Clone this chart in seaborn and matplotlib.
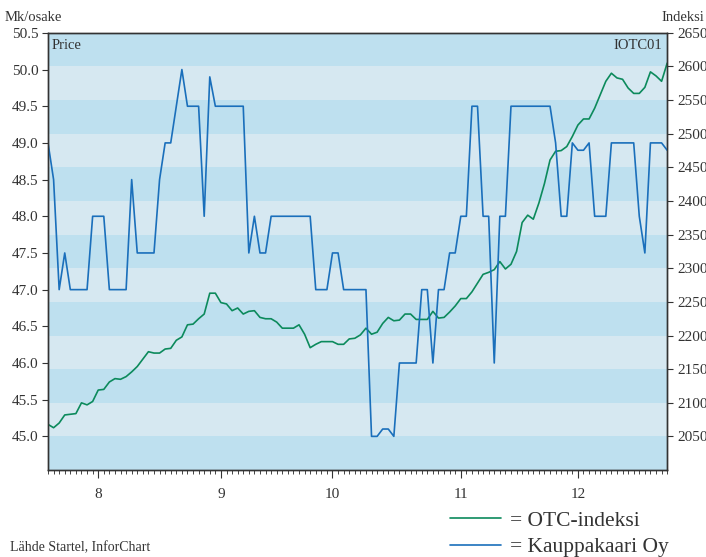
import numpy as np
import pandas as pd
import matplotlib
matplotlib.use("Agg")
import matplotlib.pyplot as plt
from matplotlib.ticker import MultipleLocator, FormatStrFormatter
import seaborn as sns

# Kauppakaari Oy share price (Mk/osake), one value per trading day
price = [49.0, 48.5, 47.0, 47.5, 47.0, 47.0, 47.0, 47.0, 48.0, 48.0,
         48.0, 47.0, 47.0, 47.0, 47.0, 48.5, 47.5, 47.5, 47.5, 47.5,
         48.5, 49.0, 49.0, 49.5, 50.0, 49.5, 49.5, 49.5, 48.0, 49.9,
         49.5, 49.5, 49.5, 49.5, 49.5, 49.5, 47.5, 48.0, 47.5, 47.5,
         48.0, 48.0, 48.0, 48.0, 48.0, 48.0, 48.0, 48.0, 47.0, 47.0,
         47.0, 47.5, 47.5, 47.0, 47.0, 47.0, 47.0, 47.0, 45.0, 45.0,
         45.1, 45.1, 45.0, 46.0, 46.0, 46.0, 46.0, 47.0, 47.0, 46.0,
         47.0, 47.0, 47.5, 47.5, 48.0, 48.0, 49.5, 49.5, 48.0, 48.0,
         46.0, 48.0, 48.0, 49.5, 49.5, 49.5, 49.5, 49.5, 49.5, 49.5,
         49.5, 49.0, 48.0, 48.0, 49.0, 48.9, 48.9, 49.0, 48.0, 48.0,
         48.0, 49.0, 49.0, 49.0, 49.0, 49.0, 48.0, 47.5, 49.0, 49.0,
         49.0, 48.9]

# OTC index (IOTC01)
otc = [2068, 2063, 2070, 2082, 2083, 2084, 2100, 2097, 2102, 2119,
       2120, 2131, 2136, 2135, 2139, 2146, 2154, 2165, 2176, 2174,
       2174, 2180, 2181, 2193, 2198, 2216, 2217, 2225, 2232, 2263,
       2263, 2249, 2247, 2237, 2241, 2232, 2236, 2237, 2227, 2225,
       2225, 2220, 2211, 2211, 2211, 2216, 2202, 2182, 2187, 2191,
       2191, 2191, 2187, 2187, 2195, 2196, 2201, 2211, 2202, 2205,
       2218, 2227, 2222, 2223, 2232, 2232, 2224, 2224, 2224, 2236,
       2226, 2227, 2235, 2244, 2255, 2255, 2265, 2278, 2291, 2294,
       2298, 2310, 2299, 2306, 2325, 2368, 2379, 2373, 2397, 2426,
       2461, 2474, 2475, 2481, 2496, 2513, 2522, 2522, 2538, 2558,
       2578, 2590, 2583, 2581, 2568, 2560, 2560, 2569, 2592, 2586,
       2578, 2605]

day = np.arange(len(price))

# first trading day of each month and its label
month_start = [9, 31, 51, 74, 95]
month_labels = ["8", "9", "10", "11", "12"]

price_ticks = np.arange(45.0, 50.51, 0.5)
index_ticks = np.arange(2050, 2651, 50)

df = pd.DataFrame({"day": day, "price": price, "otc": otc})

sns.set_style("ticks")
plt.rcParams["font.family"] = ["Liberation Serif", "DejaVu Serif"]

dark_band = "#bee0ef"
light_band = "#d6e8f1"
blue = "#1a6fbb"
green = "#0c8a5c"
txt = "#333333"

fig = plt.figure(figsize=(7.06, 5.57), dpi=100)
ax = fig.add_axes([0.068, 0.156, 0.877, 0.785])
ax2 = ax.twinx()

# horizontal stripes follow the index scale
for lo in range(2000, 2650, 50):
    ax2.axhspan(lo, lo + 50, color=dark_band if lo % 100 == 0 else light_band,
                lw=0, zorder=0)

sns.lineplot(data=df, x="day", y="otc", ax=ax2, color=green, linewidth=1.2,
             label="= OTC-indeksi", legend=False)
sns.lineplot(data=df, x="day", y="price", ax=ax, color=blue, linewidth=1.2,
             label="= Kauppakaari Oy", legend=False)

ax.set_zorder(ax2.get_zorder() + 1)
ax.patch.set_visible(False)

ax.set_xlim(0, len(day) - 1)
ax.set_ylim(44.54, 50.5)
ax2.set_ylim(2000, 2650)

ax.set_xticks(month_start)
ax.set_xticklabels(month_labels)
ax.xaxis.set_minor_locator(MultipleLocator(1))
ax.set_yticks(price_ticks)
ax.yaxis.set_major_formatter(FormatStrFormatter("%.1f"))
ax2.set_yticks(index_ticks)

for a in (ax, ax2):
    a.set_xlabel("")
    a.set_ylabel("")
    for s in a.spines.values():
        s.set_visible(True)
        s.set_color(txt)
        s.set_linewidth(1.0)
    a.tick_params(colors=txt, labelsize=11, width=0.8)

ax.tick_params(axis="x", which="major", length=6, pad=7)
ax.tick_params(axis="x", which="minor", length=3, width=0.6)
ax.tick_params(axis="y", length=4, pad=3)
ax2.tick_params(axis="y", length=4, pad=3)

ax.text(0.006, 0.985, "Price", transform=ax.transAxes, ha="left", va="top",
        fontsize=10.5, color=txt)
ax.text(0.992, 0.985, "IOTC01", transform=ax.transAxes, ha="right", va="top",
        fontsize=10.5, color=txt)
fig.text(0.006, 0.968, "Mk/osake", ha="left", va="center", fontsize=10.5, color=txt)
fig.text(0.998, 0.968, "Indeksi", ha="right", va="center", fontsize=10.5, color=txt)
fig.text(0.014, 0.016, "Lähde Startel, InforChart", ha="left", va="center",
         fontsize=10, color=txt)

h2, l2 = ax2.get_legend_handles_labels()
h1, l1 = ax.get_legend_handles_labels()
fig.legend(h2 + h1, l2 + l1, loc="center left", bbox_to_anchor=(0.637, 0.041),
           frameon=False, fontsize=15.5, handlelength=2.4, handletextpad=0.4,
           labelspacing=0.3, borderpad=0, borderaxespad=0, labelcolor=txt)

fig.savefig("out.png", dpi=100)
